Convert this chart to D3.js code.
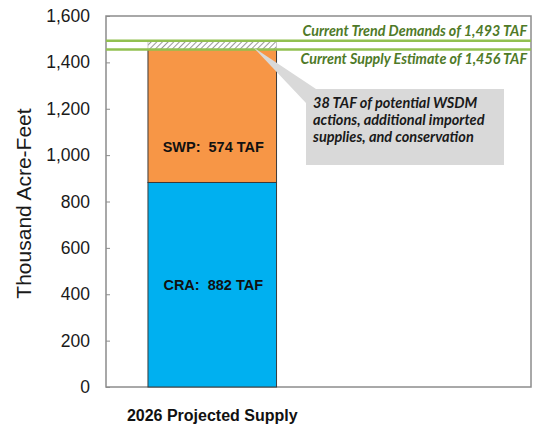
<!DOCTYPE html>
<html><head><meta charset="utf-8">
<script src="https://cdn.jsdelivr.net/npm/d3@7"></script>
<style>body{margin:0;background:#fff}svg{display:block}</style>
</head><body>
<svg id="c" width="534" height="427"></svg>
<script>
// ---- data ----
const categories = ["2026 Projected Supply", ""];
const seriesNames = ["CRA", "SWP"];
const craValues = [882, null];
const swpValues = [574, null];
const barLabels = ["CRA:  882 TAF", "SWP:  574 TAF"];
const supplyLevel = 1456;
const demandLevel = 1493;
const refLabels = ["Current Trend Demands of 1,493 TAF", "Current Supply Estimate of 1,456 TAF"];
const calloutLines = ["38 TAF of potential WSDM", "actions, additional imported", "supplies, and conservation"];
const yTicks = [0, 200, 400, 600, 800, 1000, 1200, 1400, 1600];
const yTitle = "Thousand Acre-Feet";

// ---- layout ----
const L = 106, R = 531, T = 16, B = 387;
const svg = d3.select("#c");
const defs = svg.append("defs");
const pat = defs.append("pattern").attr("id","hatch").attr("patternUnits","userSpaceOnUse")
  .attr("width",4).attr("height",4).attr("patternTransform","rotate(45)");
pat.append("rect").attr("width",4).attr("height",4).attr("fill","#fff");
pat.append("line").attr("x1",0).attr("y1",0).attr("x2",0).attr("y2",4).attr("stroke","#7f7f7f").attr("stroke-width",1.6);

const x = d3.scaleBand().domain(categories).range([L, R]).paddingInner(0.395).paddingOuter(0.1975);
const y = d3.scaleLinear().domain([0, 1600]).range([B, T]);

const colors = {CRA: "#00b0f0", SWP: "#f79646"};
const rows = categories.map((c, i) => ({cat: c, CRA: craValues[i], SWP: swpValues[i]})).filter(r => r.CRA != null);
const stack = d3.stack().keys(seriesNames)(rows);

// plot border
svg.append("rect").attr("x", L).attr("y", T).attr("width", R - L).attr("height", B - T)
  .attr("fill", "none").attr("stroke", "#8c8c8c").attr("stroke-width", 1.5);

// y axis
const yAxis = d3.axisLeft(y).tickValues(yTicks).tickFormat(d3.format(",")).tickSize(-4).tickPadding(16);
const ga = svg.append("g").attr("transform", `translate(${L},0)`).call(yAxis);
ga.select(".domain").remove();
ga.selectAll(".tick line").attr("stroke", "#8c8c8c");
ga.selectAll(".tick text").attr("font-family", "Liberation Sans, Arial, sans-serif").attr("font-size", 17.5).attr("fill", "#1a1a1a");

svg.append("text").attr("transform", `translate(31,${(T + B) / 2 + 2}) rotate(-90)`)
  .attr("text-anchor", "middle").attr("font-family", "Liberation Sans, Arial, sans-serif")
  .attr("font-size", 21).attr("fill", "#1a1a1a").text(yTitle);

// bars
stack.forEach(s => {
  svg.selectAll(null).data(s).enter().append("rect")
    .attr("x", d => x(d.data.cat)).attr("width", x.bandwidth())
    .attr("y", d => y(d[1])).attr("height", d => y(d[0]) - y(d[1]))
    .attr("fill", colors[s.key]).attr("stroke", "#3a3a3a").attr("stroke-width", 1);
});

// hatched gap
rows.forEach(r => {
  svg.append("rect").attr("x", x(r.cat)).attr("width", x.bandwidth())
    .attr("y", y(demandLevel)).attr("height", y(supplyLevel) - y(demandLevel))
    .attr("fill", "url(#hatch)").attr("stroke", "#bfbfbf").attr("stroke-width", 0.8);
});

// bar labels
const cx = x(categories[0]) + x.bandwidth() / 2;
svg.append("text").attr("x", cx + 1).attr("y", y((0 + craValues[0]) / 2) + 5)
  .attr("text-anchor", "middle").attr("font-family", "Liberation Sans, Arial, sans-serif")
  .attr("font-weight", "bold").attr("font-size", 14.5).attr("fill", "#111")
  .style("white-space", "pre").text(barLabels[0]);
svg.append("text").attr("x", cx + 1).attr("y", y(craValues[0] + swpValues[0] * 0.27) + 5)
  .attr("text-anchor", "middle").attr("font-family", "Liberation Sans, Arial, sans-serif")
  .attr("font-weight", "bold").attr("font-size", 14.5).attr("fill", "#111")
  .style("white-space", "pre").text(barLabels[1]);

// reference lines
[demandLevel, supplyLevel].forEach(v => {
  svg.append("line").attr("x1", L).attr("x2", R).attr("y1", y(v)).attr("y2", y(v))
    .attr("stroke", "#92c050").attr("stroke-width", 2.5);
});
svg.append("text").attr("x", 527).attr("y", y(demandLevel) - 5).attr("text-anchor", "end")
  .attr("font-family", "Lato, sans-serif").attr("font-style", "italic").attr("font-weight", "bold")
  .attr("font-size", 14.3).attr("fill", "#4f7a28").text(refLabels[0]);
svg.append("text").attr("x", 527).attr("y", y(supplyLevel) + 15).attr("text-anchor", "end")
  .attr("font-family", "Lato, sans-serif").attr("font-style", "italic").attr("font-weight", "bold")
  .attr("font-size", 14.3).attr("fill", "#4f7a28").text(refLabels[1]);

// callout
const tipX = x(categories[0]) + x.bandwidth() * 0.82, tipY = y(supplyLevel) - 2;
svg.append("path").attr("d", `M${tipX},${tipY} L316,89 L306,103 Z`).attr("fill", "#d9d9d9");
svg.append("rect").attr("x", 306).attr("y", 89).attr("width", 198).attr("height", 76).attr("fill", "#d9d9d9");
calloutLines.forEach((t, i) => {
  svg.append("text").attr("x", 313).attr("y", 108 + i * 17)
    .attr("font-family", "Lato, sans-serif").attr("font-style", "italic").attr("font-weight", "bold")
    .attr("font-size", 14.5).attr("fill", "#1a1a1a").text(t);
});

// x label
svg.append("text").attr("x", cx).attr("y", 421).attr("text-anchor", "middle")
  .attr("font-family", "Liberation Sans, Arial, sans-serif").attr("font-weight", "bold")
  .attr("font-size", 16).attr("fill", "#111").text(categories[0]);
</script>
</body></html>
